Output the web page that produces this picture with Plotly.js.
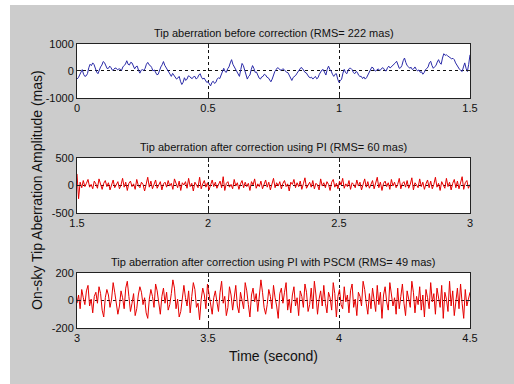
<!DOCTYPE html>
<html><head><meta charset="utf-8">
<script src="https://cdn.plot.ly/plotly-3.0.1.min.js"></script>
<style>html,body{margin:0;padding:0;background:#ffffff;}#chart{position:absolute;left:10px;top:5px;width:504px;height:379px;}</style>
</head><body><div id="chart"></div>
<script>
// Panel titles and labels
const titles = [
  "Tip aberration before correction (RMS= 222 mas)",
  "Tip aberration after correction using PI (RMS= 60 mas)",
  "Tip aberration after correction using PI with PSCM (RMS= 49 mas)"
];
const yAxisTitle = "On-sky Tip Aberration Amplitude (mas)";
const xAxisTitle = "Time (second)";

// Time sampling of each panel
const start1 = 0, step1 = 0.005;
const start2 = 1.5, step2 = 0.006;
const start3 = 3.0, step3 = 0.006;

// Tick values and labels
const xTicks1 = [0, 0.5, 1, 1.5], xLabels1 = ["0", "0.5", "1", "1.5"];
const xTicks2 = [1.5, 2, 2.5, 3], xLabels2 = ["1.5", "2", "2.5", "3"];
const xTicks3 = [3, 3.5, 4, 4.5], xLabels3 = ["3", "3.5", "4", "4.5"];
const yTicks1 = [-1000, 0, 1000];
const yTicks2 = [-500, 0, 500];
const yTicks3 = [-200, 0, 200];

// Before correction (mas), 0 to 1.5 s
const before = [
 -300,-250,-150,-20,50,-120,-200,-180,-100,120,
 250,200,300,240,80,-40,-100,60,150,220,
 350,310,200,90,100,180,120,30,50,110,
 100,40,80,70,20,150,200,260,380,250,
 220,320,300,150,80,160,180,20,-80,30,
 50,20,100,250,320,230,200,130,0,40,
 -50,-140,-120,60,150,230,350,210,120,70,
 -50,-160,-200,-90,-150,-250,-300,-260,-200,-380,
 -500,-420,-250,-350,-300,-180,-200,-260,-280,-210,
 -200,-300,-250,-150,-100,-230,-300,-260,-350,-420,
 -400,-480,-550,-420,-380,-460,-420,-300,-250,-280,
 -150,0,100,-20,-50,80,150,300,420,250,
 150,100,0,-120,-200,50,280,200,50,-150,
 -300,-200,-150,50,200,100,-50,-40,-150,-260,
 -300,-220,-200,-120,-150,-230,-250,-330,-400,-300,
 -150,-20,50,120,100,40,30,80,60,10,
 -50,-60,-150,-280,-350,-240,-200,-160,-80,0,
 50,130,100,0,-50,-70,-150,-220,-250,-230,
 -300,-230,-200,-290,-250,-120,-50,40,50,-80,
 -150,60,180,60,0,-120,-200,-120,-100,-300,
 -420,-360,-300,-80,60,-60,-100,30,100,100,
 50,-60,-100,-20,-50,-160,-200,-200,-280,-220,
 -300,-250,-150,-80,50,140,120,20,0,60,
 80,20,50,120,100,20,0,120,180,110,
 150,220,250,300,360,220,100,120,200,380,
 480,320,200,160,100,140,50,80,150,60,
 0,40,-50,-30,-120,-60,50,90,150,300,
 360,200,100,160,200,330,420,300,250,480,
 640,580,600,560,520,500,450,470,420,300,
 200,120,60,20,-20,150,300,100,-20,250,
 600
];

// After correction using PI (mas), 1.5 to 3 s
const afterPI = [
 210,-240,60,-40,90,-20,40,110,-30,20,
 -60,80,30,-50,120,10,-70,40,90,-20,
 50,-80,30,100,-40,20,70,-60,10,130,
 -30,60,-90,40,80,-20,30,-70,110,0,
 -40,60,20,-100,50,150,-30,80,-60,40,
 100,-50,20,70,-80,30,60,-30,90,-10,
 40,-70,120,20,-40,80,-90,50,10,70,
 -50,130,-20,40,-100,60,20,-40,150,-60,
 30,90,-30,50,-80,20,100,-20,60,-50,
 10,80,-40,160,-90,40,70,-30,20,-60,
 110,-10,50,-70,30,90,-40,60,-20,40,
 -90,70,10,120,-50,30,-20,80,-60,40,
 100,-30,60,-80,20,130,-40,50,-10,70,
 -60,40,90,-20,30,-100,60,20,110,-40,
 50,-20,80,-70,30,140,-50,20,60,-30,
 90,-60,40,10,-80,120,-10,50,-40,70,
 20,-90,60,110,-30,40,-60,80,10,130,
 -50,30,-20,90,-70,50,20,-40,100,-10,
 60,-80,40,120,-30,70,-50,20,90,-60,
 30,150,-40,60,-90,40,80,-20,50,-70,
 110,-10,60,-40,20,130,-60,40,70,-30,
 90,-50,20,140,-80,50,10,-40,120,-20,
 60,-70,30,100,-40,80,-60,20,150,-30,
 40,-90,70,20,-50,130,-20,60,-80,40,
 110,-40,80,-60,30,160,-70,50,90,-50,
 20
];

// After correction using PI with PSCM (mas), 3 to 4.5 s
const afterPSCM = [
 -20,40,-60,80,20,-30,70,110,-40,10,
 -90,30,60,-20,100,50,-70,-120,20,80,
 40,-50,10,130,60,-30,-100,-40,70,20,
 -60,90,140,30,-80,-20,50,-110,-60,40,
 100,60,-30,20,-90,-130,10,80,30,-50,
 120,70,-40,-100,30,90,-20,60,-70,-30,
 50,150,90,-60,10,-120,-80,40,110,20,
 -40,70,-90,30,130,80,-50,-20,-140,10,
 90,40,-60,120,50,-30,-100,20,70,-10,
 -80,60,140,-20,30,-110,-50,100,40,-70,
 20,110,-40,-90,60,10,-60,130,70,-30,
 -120,40,90,-10,50,-80,20,150,60,-50,
 -100,-30,80,30,-60,110,20,-40,-130,50,
 90,-20,60,130,-70,10,-90,40,100,-40,
 20,-110,70,30,-50,120,60,-80,-30,90,
 -60,140,40,-100,10,70,-40,110,-20,-90,
 60,20,-70,130,50,-120,30,80,-30,-60,
 100,-10,40,-90,70,120,-50,10,-110,60,
 30,-40,140,80,-20,-100,50,-60,90,20,
 -80,110,-30,60,-130,40,100,-10,-70,130,
 50,-40,20,-100,90,-60,30,120,-20,-110,
 70,10,-50,140,60,-90,30,-30,100,-70,
 40,-120,80,20,-60,130,-10,50,-100,90,
 30,-50,110,-130,60,10,-80,140,-40,70,
 -110,20,90,-60,120,-20,-130,80,-40,10,
 60
];

const times = (vals, s, d) => vals.map((_, i) => s + i * d);

const traces = [
  {x: times(before, start1, step1), y: before, xaxis: 'x', yaxis: 'y', type: 'scatter', mode: 'lines',
   line: {color: '#2a2aa8', width: 1}, hoverinfo: 'skip'},
  {x: times(afterPI, start2, step2), y: afterPI, xaxis: 'x2', yaxis: 'y2', type: 'scatter', mode: 'lines',
   line: {color: '#e60000', width: 1}, hoverinfo: 'skip'},
  {x: times(afterPSCM, start3, step3), y: afterPSCM, xaxis: 'x3', yaxis: 'y3', type: 'scatter', mode: 'lines',
   line: {color: '#e60000', width: 1}, hoverinfo: 'skip'}
];

const FONT = 'Liberation Sans, Arial, sans-serif';
function ax(extra) {
  return Object.assign({
    showline: true, linecolor: '#222', linewidth: 1, mirror: 'ticks',
    ticks: 'inside', ticklen: 4, tickcolor: '#222', tickwidth: 1,
    showgrid: true, gridcolor: '#111', griddash: '3px,3px', gridwidth: 1,
    zeroline: false, fixedrange: true,
    tickfont: {family: FONT, size: 11, color: '#111'}
  }, extra);
}
const d1 = [0.8099, 1], d2 = [0.4049, 0.5986], d3 = [0, 0.1937];

const layout = {
  width: 504, height: 379,
  margin: {l: 67, r: 44, t: 39, b: 56},
  paper_bgcolor: '#cccccc', plot_bgcolor: '#ffffff',
  showlegend: false,
  font: {family: FONT, size: 11, color: '#111'},
  xaxis: ax({domain: [0, 1], anchor: 'y', range: [0, 1.5], tickvals: xTicks1, ticktext: xLabels1}),
  yaxis: ax({domain: d1, anchor: 'x', range: [-1000, 1000], tickvals: yTicks1, ticktext: yTicks1.map(String)}),
  xaxis2: ax({domain: [0, 1], anchor: 'y2', range: [1.5, 3], tickvals: xTicks2, ticktext: xLabels2}),
  yaxis2: ax({domain: d2, anchor: 'x2', range: [-500, 500], tickvals: yTicks2, ticktext: yTicks2.map(String)}),
  xaxis3: ax({domain: [0, 1], anchor: 'y3', range: [3, 4.5], tickvals: xTicks3, ticktext: xLabels3}),
  yaxis3: ax({domain: d3, anchor: 'x3', range: [-200, 200], tickvals: yTicks3, ticktext: yTicks3.map(String)}),
  annotations: [
    {text: titles[0], xref: 'paper', yref: 'paper', x: 0.5, y: d1[1], xanchor: 'center', yanchor: 'bottom', yshift: 3, showarrow: false, font: {family: FONT, size: 11, color: '#111'}},
    {text: titles[1], xref: 'paper', yref: 'paper', x: 0.5, y: d2[1], xanchor: 'center', yanchor: 'bottom', yshift: 3, showarrow: false, font: {family: FONT, size: 11, color: '#111'}},
    {text: titles[2], xref: 'paper', yref: 'paper', x: 0.5, y: d3[1], xanchor: 'center', yanchor: 'bottom', yshift: 3, showarrow: false, font: {family: FONT, size: 11, color: '#111'}},
    {text: xAxisTitle, xref: 'paper', yref: 'paper', x: 0.5, y: 0, xanchor: 'center', yanchor: 'top', yshift: -18, showarrow: false, font: {family: FONT, size: 14, color: '#111'}},
    {text: yAxisTitle, xref: 'paper', yref: 'paper', x: -0.1018, y: 0.486, xanchor: 'center', yanchor: 'middle', textangle: -90, showarrow: false, font: {family: FONT, size: 14, color: '#111'}}
  ]
};

Plotly.newPlot('chart', traces, layout, {displayModeBar: false, staticPlot: true});
</script></body></html>
